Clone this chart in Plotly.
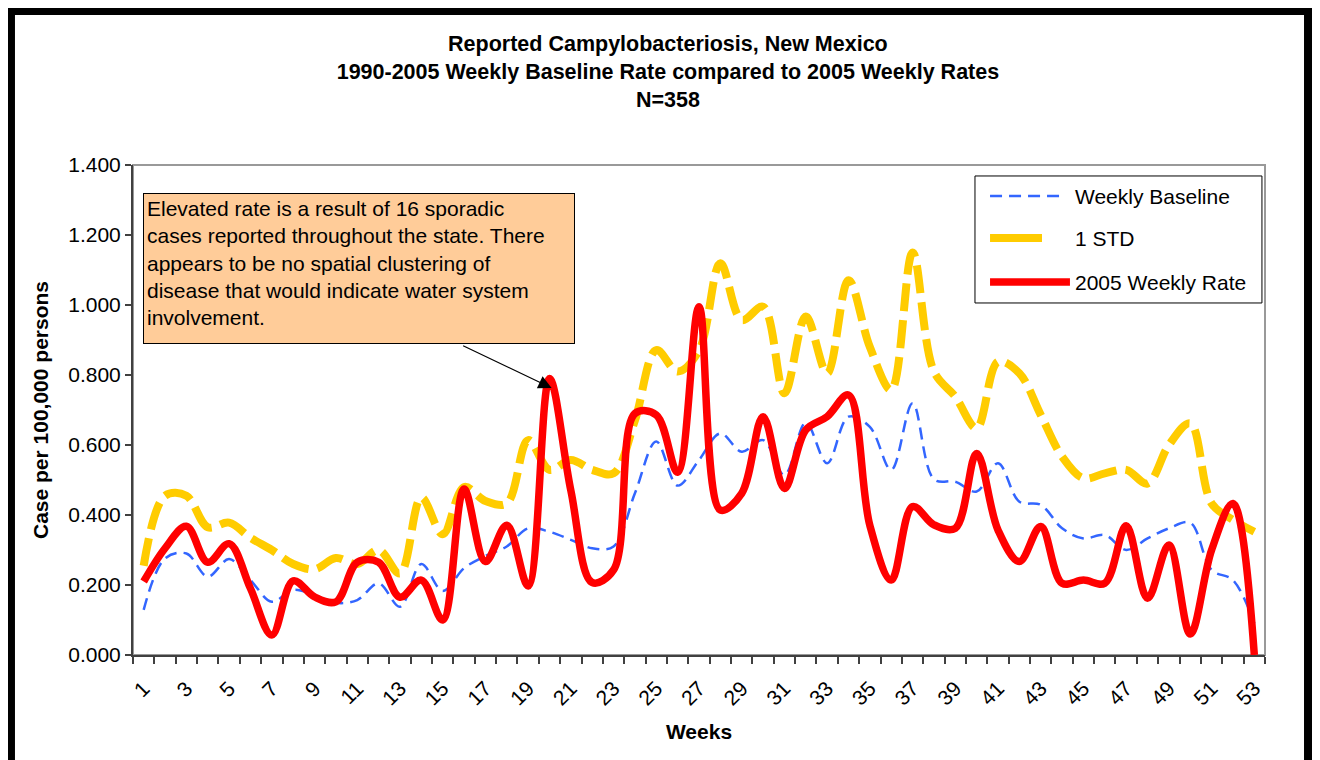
import plotly.graph_objects as go

# weekly values (case per 100,000 persons)
weeks = list(range(1, 54))
weekly_baseline = [0.129, 0.276, 0.290, 0.224, 0.274, 0.214, 0.152, 0.186, 0.171, 0.149,
                   0.157, 0.205, 0.138, 0.260, 0.183, 0.248, 0.283, 0.310, 0.362, 0.352,
                   0.329, 0.305, 0.310, 0.462, 0.610, 0.484, 0.557, 0.633, 0.581, 0.614,
                   0.514, 0.664, 0.548, 0.681, 0.652, 0.529, 0.719, 0.502, 0.495, 0.467,
                   0.548, 0.438, 0.429, 0.362, 0.333, 0.343, 0.300, 0.333, 0.362, 0.378,
                   0.243, 0.214, 0.090]
one_std = [0.255, 0.455, 0.455, 0.365, 0.378, 0.335, 0.300, 0.260, 0.245, 0.277,
           0.260, 0.300, 0.233, 0.450, 0.345, 0.480, 0.440, 0.433, 0.614, 0.529,
           0.557, 0.529, 0.519, 0.670, 0.871, 0.810, 0.870, 1.119, 0.957, 0.995,
           0.748, 0.967, 0.805, 1.071, 0.880, 0.757, 1.150, 0.810, 0.738, 0.648,
           0.838, 0.805, 0.686, 0.567, 0.505, 0.519, 0.529, 0.490, 0.600, 0.662,
           0.433, 0.386, 0.352]
rate_2005 = [0.210, 0.305, 0.368, 0.265, 0.318, 0.190, 0.057, 0.212, 0.166, 0.152,
             0.265, 0.265, 0.165, 0.214, 0.100, 0.474, 0.267, 0.371, 0.197, 0.790,
             0.470, 0.207, 0.243, 0.690, 0.686, 0.522, 0.995, 0.414, 0.462, 0.681,
             0.476, 0.643, 0.681, 0.743, 0.370, 0.214, 0.424, 0.372, 0.362, 0.576,
             0.357, 0.267, 0.367, 0.205, 0.214, 0.205, 0.369, 0.162, 0.314, 0.060,
             0.300, 0.433, 0.000]
tick_weeks = list(range(1, 54, 2))

FONT = "Arial, Liberation Sans, sans-serif"
BLUE = "#3366FF"
GOLD = "#FFCC00"
RED = "#FF0000"

fig = go.Figure()
fig.add_trace(go.Scatter(x=weeks, y=weekly_baseline, mode="lines", name="Weekly Baseline",
                         line=dict(color=BLUE, width=2.5, dash="12px,7px", shape="spline", smoothing=1)))
fig.add_trace(go.Scatter(x=weeks, y=one_std, mode="lines", name="1 STD",
                         line=dict(color=GOLD, width=8, dash="28px,9px", shape="spline", smoothing=1)))
fig.add_trace(go.Scatter(x=weeks, y=rate_2005, mode="lines", name="2005 Weekly Rate",
                         line=dict(color=RED, width=7.5, shape="spline", smoothing=1)))

# page body adds an 8px offset, so the figure is 8px smaller than the window
fig.update_layout(
    width=1312, height=752,
    margin=dict(l=125, r=55, t=157, b=105),
    paper_bgcolor="white", plot_bgcolor="white",
    showlegend=False,
    font=dict(family=FONT, size=21, color="black"),
    title=dict(text="Reported Campylobacteriosis, New Mexico<br>"
                    "1990-2005 Weekly Baseline Rate compared to 2005 Weekly Rates<br>N=358",
               x=0.503, xanchor="center", y=0.943, yanchor="top",
               font=dict(family=FONT, size=21.5, weight="bold")),
)

fig.update_xaxes(range=[0.5, 53.5], tickmode="array", tickvals=tick_weeks,
                 ticktext=[str(w) for w in tick_weeks], tickangle=-45, ticks="",
                 ticklabelstandoff=11, showgrid=False, zeroline=False,
                 showline=True, linecolor="#404040", linewidth=2,
                 minor=dict(ticks="outside", ticklen=7, tickcolor="#404040", tickwidth=1.5,
                            tick0=0.5, dtick=1, showgrid=False),
                 title=dict(text="Weeks", font=dict(size=21, weight="bold"), standoff=16))
fig.update_yaxes(range=[0, 1.4], dtick=0.2, tickformat=".3f", ticks="outside", ticklen=6,
                 tickcolor="#404040", tickwidth=1.5, showgrid=False, zeroline=False,
                 showline=True, linecolor="#404040", linewidth=2,
                 title=dict(text="Case per 100,000 persons", font=dict(size=21, weight="bold"),
                            standoff=14))

# plot area border (grey) and the outer black frame
fig.add_shape(type="rect", xref="paper", yref="paper", x0=0, x1=1, y0=0, y1=1,
              line=dict(color="#999999", width=2), layer="below")
fig.add_shape(type="rect", xref="paper", yref="paper", x0=-0.1078, x1=1.038, y0=-0.27, y1=1.3143,
              line=dict(color="black", width=8))

# callout box and arrow
fig.add_annotation(xref="paper", yref="paper", x=0.0091, y=0.9422, xanchor="left", yanchor="top",
                   text="Elevated rate is a result of 16 sporadic<br>"
                        "cases reported throughout the state. There<br>"
                        "appears to be no spatial clustering of<br>"
                        "disease that would indicate water system<br>"
                        "involvement.",
                   showarrow=False, align="left", valign="top", width=424, height=143,
                   bgcolor="#FFCC99", bordercolor="black", borderwidth=1, borderpad=3,
                   font=dict(size=21))
fig.add_annotation(x=20.1, y=0.763, xref="x", yref="y", ax=-90, ay=-43, text="",
                   showarrow=True, arrowhead=2, arrowsize=2.2, arrowwidth=1.2, arrowcolor="black")

# legend drawn as a boxed key
fig.add_shape(type="rect", xref="paper", yref="paper", x0=0.7438, x1=0.9973, y0=0.7184, y1=0.9776,
              line=dict(color="black", width=1), fillcolor="white")
key = [("Weekly Baseline", BLUE, 2.5, "12px,7px", 0.8233, 0.9367),
       ("1 STD", GOLD, 8, "solid", 0.8030, 0.8510),
       ("2005 Weekly Rate", RED, 7.5, "solid", 0.8277, 0.7612)]
for label, color, width, dash, x_end, y_pos in key:
    fig.add_shape(type="line", xref="paper", yref="paper", x0=0.7571, x1=x_end, y0=y_pos, y1=y_pos,
                  line=dict(color=color, width=width, dash=dash))
    fig.add_annotation(xref="paper", yref="paper", x=0.8304, y=y_pos, xanchor="left", yanchor="middle",
                       text=label, showarrow=False, font=dict(size=21))

fig.write_html("out.html")
